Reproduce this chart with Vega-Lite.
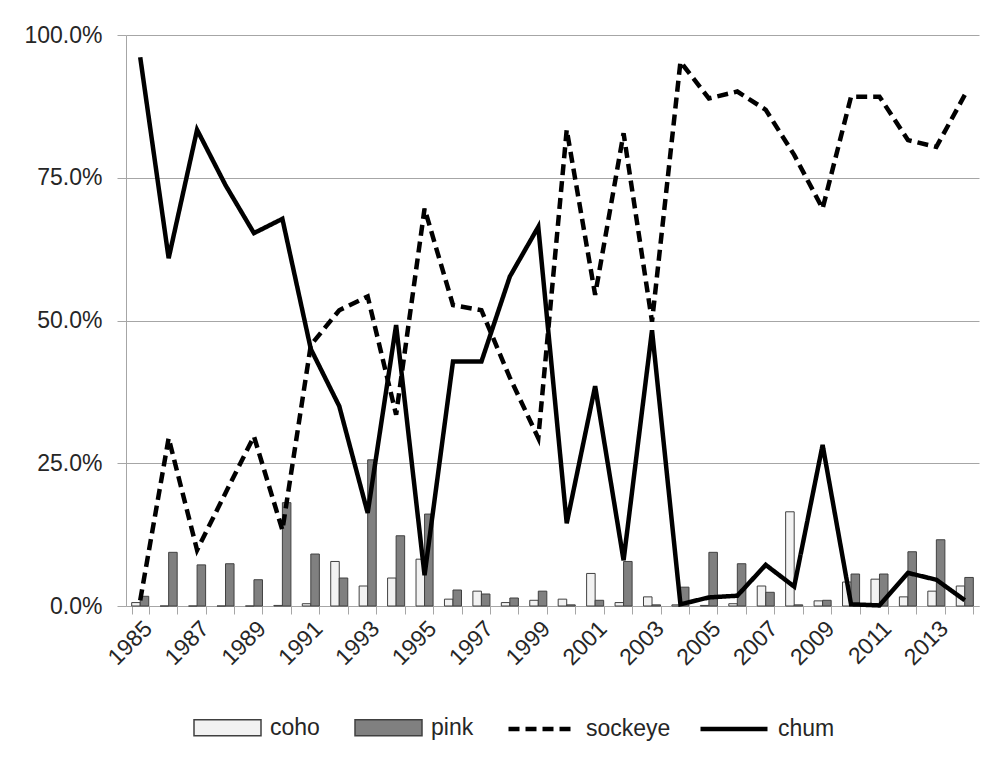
{
  "$schema": "https://vega.github.io/schema/vega-lite/v6.json",
  "width": 853,
  "height": 571,
  "autosize": {"type": "none"},
  "padding": {"left": 126, "top": 35, "right": 27, "bottom": 161},
  "background": "white",
  "config": {
    "view": {"stroke": null},
    "font": "Liberation Sans",
    "axis": {"labelFont": "Liberation Sans", "labelFontSize": 23, "labelColor": "#262626", "titleFontSize": 0},
    "legend": {"labelFont": "Liberation Sans", "labelFontSize": 23, "labelColor": "#262626", "padding": 0}
  },
  "data": {
    "values": [
      {"year": 1985, "coho": 0.6, "pink": 1.7, "sockeye": 1.0, "chum": 96.1},
      {"year": 1986, "coho": 0, "pink": 9.4, "sockeye": 29.4, "chum": 60.9},
      {"year": 1987, "coho": 0, "pink": 7.2, "sockeye": 9.8, "chum": 83.4},
      {"year": 1988, "coho": 0, "pink": 7.4, "sockeye": 19.8, "chum": 73.7},
      {"year": 1989, "coho": 0, "pink": 4.6, "sockeye": 29.7, "chum": 65.3},
      {"year": 1990, "coho": 0.1, "pink": 18.1, "sockeye": 13.3, "chum": 67.8},
      {"year": 1991, "coho": 0.4, "pink": 9.1, "sockeye": 45.7, "chum": 45.0},
      {"year": 1992, "coho": 7.8, "pink": 4.9, "sockeye": 51.8, "chum": 35.0},
      {"year": 1993, "coho": 3.5, "pink": 25.6, "sockeye": 54.2, "chum": 16.3},
      {"year": 1994, "coho": 4.9, "pink": 12.3, "sockeye": 33.5, "chum": 49.2},
      {"year": 1995, "coho": 8.2, "pink": 16.1, "sockeye": 69.6, "chum": 5.4},
      {"year": 1996, "coho": 1.2, "pink": 2.8, "sockeye": 52.7, "chum": 42.8},
      {"year": 1997, "coho": 2.6, "pink": 2.1, "sockeye": 51.8, "chum": 42.8},
      {"year": 1998, "coho": 0.6, "pink": 1.4, "sockeye": 40.0, "chum": 57.7},
      {"year": 1999, "coho": 1.0, "pink": 2.6, "sockeye": 29.4, "chum": 66.4},
      {"year": 2000, "coho": 1.2, "pink": 0.2, "sockeye": 83.4, "chum": 14.5},
      {"year": 2001, "coho": 5.7, "pink": 1.0, "sockeye": 54.5, "chum": 38.5},
      {"year": 2002, "coho": 0.6, "pink": 7.8, "sockeye": 82.8, "chum": 8.0},
      {"year": 2003, "coho": 1.6, "pink": 0.2, "sockeye": 49.8, "chum": 48.3},
      {"year": 2004, "coho": 0.2, "pink": 3.3, "sockeye": 95.3, "chum": 0.3},
      {"year": 2005, "coho": 0.1, "pink": 9.4, "sockeye": 88.9, "chum": 1.5},
      {"year": 2006, "coho": 0.4, "pink": 7.4, "sockeye": 90.1, "chum": 1.8},
      {"year": 2007, "coho": 3.5, "pink": 2.4, "sockeye": 86.9, "chum": 7.2},
      {"year": 2008, "coho": 16.5, "pink": 0.2, "sockeye": 79.0, "chum": 3.4},
      {"year": 2009, "coho": 0.9, "pink": 1.0, "sockeye": 69.6, "chum": 28.2},
      {"year": 2010, "coho": 4.2, "pink": 5.6, "sockeye": 89.2, "chum": 0.3},
      {"year": 2011, "coho": 4.7, "pink": 5.6, "sockeye": 89.2, "chum": 0.1},
      {"year": 2012, "coho": 1.6, "pink": 9.5, "sockeye": 81.6, "chum": 5.8},
      {"year": 2013, "coho": 2.6, "pink": 11.6, "sockeye": 80.4, "chum": 4.6},
      {"year": 2014, "coho": 3.5, "pink": 5.0, "sockeye": 89.5, "chum": 1.0}
    ]
  },
  "transform": [{"fold": ["coho", "pink", "sockeye", "chum"], "as": ["series", "value"]}],
  "encoding": {
    "x": {
      "field": "year", "type": "ordinal",
      "scale": {"paddingInner": 0.4, "paddingOuter": 0.2},
      "axis": {
        "title": null, "labelAngle": -45, "tickBand": "extent", "tickSize": 8,
        "tickColor": "#a6a6a6", "domainColor": "#a6a6a6", "labelPadding": 3, "labelDx": -4,
        "labelExpr": "datum.value % 2 == 1 ? datum.label : ''"
      }
    },
    "y": {
      "field": "value", "type": "quantitative",
      "scale": {"domain": [0, 100]},
      "axis": {
        "title": null, "values": [0, 25, 50, 75, 100], "grid": true, "gridColor": "#a6a6a6",
        "domainColor": "#a6a6a6", "tickColor": "#a6a6a6", "tickSize": 9, "labelPadding": 15,
        "labelExpr": "format(datum.value / 100, '.1%')"
      }
    }
  },
  "layer": [
    {
      "transform": [{"filter": "datum.series == 'coho' || datum.series == 'pink'"}],
      "mark": {"type": "bar", "stroke": "#404040", "strokeWidth": 1},
      "encoding": {
        "xOffset": {"field": "series", "scale": {"domain": ["coho", "pink"], "paddingInner": 0, "paddingOuter": 0}},
        "fill": {
          "field": "series", "type": "nominal",
          "scale": {"domain": ["coho", "pink"], "range": ["#f2f2f2", "#808080"]},
          "legend": {
            "orient": "none", "legendX": 67, "legendY": 658, "direction": "horizontal", "title": null,
            "symbolType": "M-1,-0.24H1V0.24H-1Z", "symbolSize": 4489, "labelOffset": 8, "columnPadding": 32,
            "symbolStrokeColor": "#404040", "symbolStrokeWidth": 1.5
          }
        }
      }
    },
    {
      "transform": [{"filter": "datum.series == 'sockeye' || datum.series == 'chum'"}],
      "mark": {"type": "line", "color": "black", "strokeWidth": 4.5, "strokeCap": "butt"},
      "encoding": {
        "strokeDash": {
          "field": "series", "type": "nominal",
          "scale": {"domain": ["sockeye", "chum"], "range": [[11, 6], [1, 0]]},
          "legend": {
            "orient": "none", "legendX": 380, "legendY": 658, "direction": "horizontal", "title": null,
            "symbolType": "stroke", "symbolSize": 4489, "symbolStrokeWidth": 4.5, "symbolStrokeColor": "black",
            "labelOffset": 8, "columnPadding": 20
          }
        }
      }
    }
  ]
}
